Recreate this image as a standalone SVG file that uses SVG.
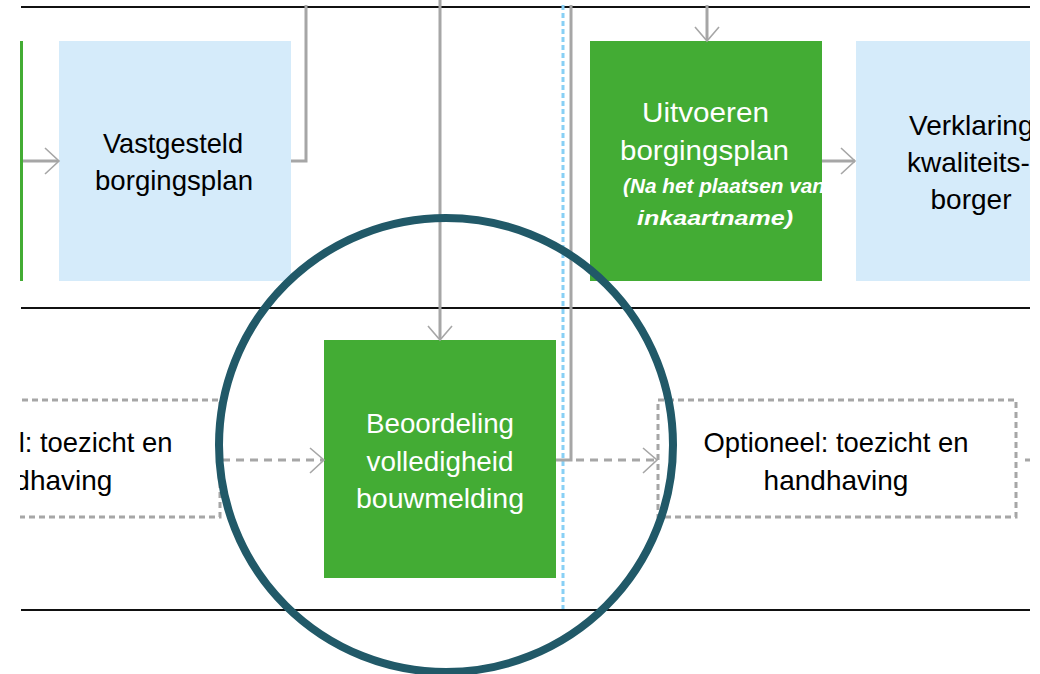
<svg xmlns="http://www.w3.org/2000/svg" width="1040" height="674" viewBox="0 0 1040 674">
<defs>
<style>
.lane{stroke:#111;stroke-width:2;fill:none}
.con{stroke:#A6A6A6;stroke-width:3;fill:none}
.dash{stroke:#A6A6A6;stroke-width:3;fill:none;stroke-dasharray:8 6}
.head{stroke:#A6A6A6;stroke-width:1.6;fill:none}
.blue{fill:#D5EBFA}
.green{fill:#43AC34}
.opt{fill:none;stroke:#A6A6A6;stroke-width:3;stroke-dasharray:6 4}
.t{font-family:"Liberation Sans",Arial,sans-serif;font-size:28px}
.dk{fill:#000}
.wh{fill:#fff}
.sm{font-family:"Liberation Sans",Arial,sans-serif;font-size:20px;font-weight:bold;font-style:italic;fill:#fff}
</style>
<clipPath id="page"><rect x="20" y="0" width="1010" height="674"/></clipPath>
<clipPath id="uitclip"><rect x="590" y="41" width="232" height="240"/></clipPath>
</defs>
<rect x="0" y="0" width="1040" height="674" fill="#fff"/>
<g clip-path="url(#page)">
<g id="lanes">
<line class="lane" x1="21" y1="7" x2="1030" y2="7"/>
<line class="lane" x1="21" y1="308" x2="1030" y2="308"/>
<line class="lane" x1="21" y1="610" x2="1030" y2="610"/>
</g>
<g id="prev-node">
<rect class="green" x="10" y="41" width="13" height="240"/>
</g>
<g id="vastgesteld">
<rect class="blue" x="59" y="41" width="232" height="240"/>
<text class="t dk" x="103" y="153" textLength="140" lengthAdjust="spacingAndGlyphs">Vastgesteld</text>
<text class="t dk" x="95" y="190" textLength="158" lengthAdjust="spacingAndGlyphs">borgingsplan</text>
</g>
<g id="uitvoeren">
<rect class="green" x="590" y="41" width="232" height="240"/>
<text class="t wh" x="642" y="122" textLength="127" lengthAdjust="spacingAndGlyphs">Uitvoeren</text>
<text class="t wh" x="620" y="160" textLength="169" lengthAdjust="spacingAndGlyphs">borgingsplan</text>
<g clip-path="url(#uitclip)">
<text class="sm" x="623" y="193" textLength="202" lengthAdjust="spacingAndGlyphs">(Na het plaatsen van</text>
<text class="sm" x="637" y="225" textLength="156" lengthAdjust="spacingAndGlyphs">inkaartname)</text>
</g>
</g>
<g id="verklaring">
<rect class="blue" x="856" y="41" width="232" height="240"/>
<text class="t dk" x="909" y="135">Verklaring</text>
<text class="t dk" x="907" y="172">kwaliteits-</text>
<text class="t dk" x="971" y="209" text-anchor="middle">borger</text>
</g>
<g id="beoordeling">
<rect class="green" x="324" y="340" width="232" height="238"/>
<text class="t wh" x="440" y="433" text-anchor="middle" textLength="148" lengthAdjust="spacingAndGlyphs">Beoordeling</text>
<text class="t wh" x="440" y="471" text-anchor="middle" textLength="147" lengthAdjust="spacingAndGlyphs">volledigheid</text>
<text class="t wh" x="440" y="508" text-anchor="middle" textLength="168" lengthAdjust="spacingAndGlyphs">bouwmelding</text>
</g>
<g id="optioneel-left">
<rect class="opt" x="-138" y="400" width="358" height="117"/>
<text class="t dk" x="40" y="452" text-anchor="middle" textLength="265" lengthAdjust="spacingAndGlyphs">Optioneel: toezicht en</text>
<text class="t dk" x="40" y="490" text-anchor="middle">handhaving</text>
</g>
<g id="optioneel-right">
<rect class="opt" x="658" y="400" width="358" height="117"/>
<text class="t dk" x="836" y="452" text-anchor="middle" textLength="265" lengthAdjust="spacingAndGlyphs">Optioneel: toezicht en</text>
<text class="t dk" x="836" y="490" text-anchor="middle">handhaving</text>
</g>
<g id="connectors">
<line x1="563" y1="5" x2="563" y2="609" stroke="#88D0F5" stroke-width="3" stroke-dasharray="5 3"/>
<line class="con" x1="23" y1="161" x2="58" y2="161"/>
<polyline class="head" points="45,148 59,161 45,174"/>
<polyline class="con" points="291,161 306,161 306,5"/>
<line class="con" x1="440" y1="0" x2="440" y2="339"/>
<polyline class="head" points="428,326 440,340 452,326"/>
<line class="con" x1="707" y1="5" x2="707" y2="40"/>
<polyline class="head" points="695,27 707,41 719,27"/>
<line class="con" x1="822" y1="161" x2="855" y2="161"/>
<polyline class="head" points="841,148 855,161 841,174"/>
<line class="dash" x1="222" y1="460" x2="323" y2="460"/>
<polyline class="head" points="310,448 324,460 310,473"/>
<polyline class="con" points="556,460 571,460 571,5"/>
<line class="dash" x1="576" y1="460" x2="656" y2="460"/>
<polyline class="head" points="643,448 657,460 643,473"/>
<line class="con" x1="1025" y1="460" x2="1031" y2="460"/>
</g>
</g>
<g id="highlight">
<circle cx="446" cy="445" r="227" fill="none" stroke="#215968" stroke-width="8"/>
</g>
</svg>
